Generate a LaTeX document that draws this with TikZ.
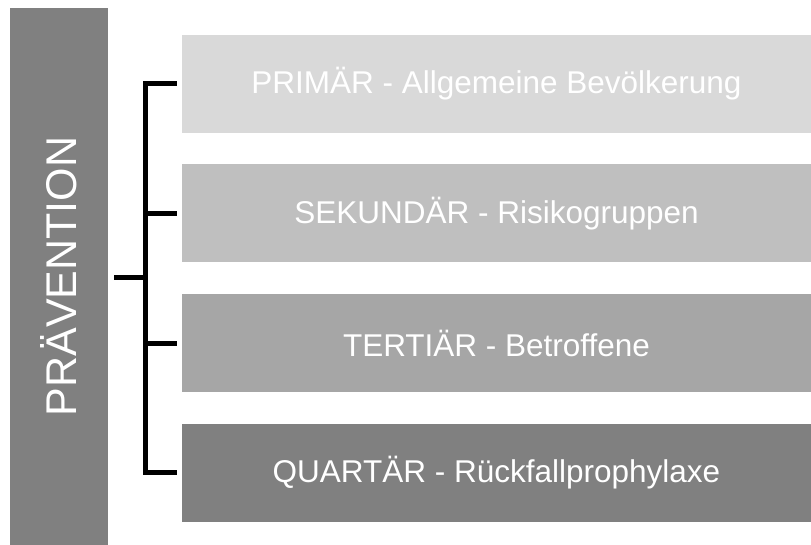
\documentclass[tikz,border=0pt]{standalone}
\usepackage{fontspec}
\setmainfont{Liberation Sans}
\usetikzlibrary{positioning}

\definecolor{grayA}{HTML}{D9D9D9}
\definecolor{grayB}{HTML}{BFBFBF}
\definecolor{grayC}{HTML}{A6A6A6}
\definecolor{grayD}{HTML}{808080}

\begin{document}
\begin{tikzpicture}[
 x=1pt,y=-1pt,
 level/.style={inner sep=0pt,minimum width=629pt,minimum height=98pt,text=white,font=\fontsize{31.5}{36}\selectfont},
 bar/.style={fill=grayD,inner sep=0pt,minimum width=98pt,minimum height=537pt,text=white,font=\fontsize{43}{48}\selectfont},
 bracket/.style={line width=5pt,line join=miter}]
\useasboundingbox (0,0) rectangle (811,545);
\node[bar] (praevention) at (59,276.5) {\rotatebox{90}{PRÄVENTION}};
\node[level,fill=grayA] (primaer) at (496.5,84) {PRIMÄR - Allgemeine Bevölkerung};
\node[level,fill=grayB] (sekundaer) at (496.5,213.5) {SEKUNDÄR - Risikogruppen};
\node[level,fill=grayC] (tertiaer) at (496.5,343) {TERTIÄR - Betroffene};
\node[level,fill=grayD] (quartaer) at (496.5,472.5) {QUARTÄR - Rückfallprophylaxe};
\coordinate (j) at (145.5,278);
\draw[bracket] ([xshift=-5pt]primaer.west) -| (j) |- ([xshift=-5pt]quartaer.west);
\draw[bracket] (j |- sekundaer.west) -- ([xshift=-5pt]sekundaer.west);
\draw[bracket] (j |- tertiaer.west) -- ([xshift=-5pt]tertiaer.west);
\draw[bracket] ([xshift=6pt]praevention.east |- j) -- (j);
\end{tikzpicture}
\end{document}
